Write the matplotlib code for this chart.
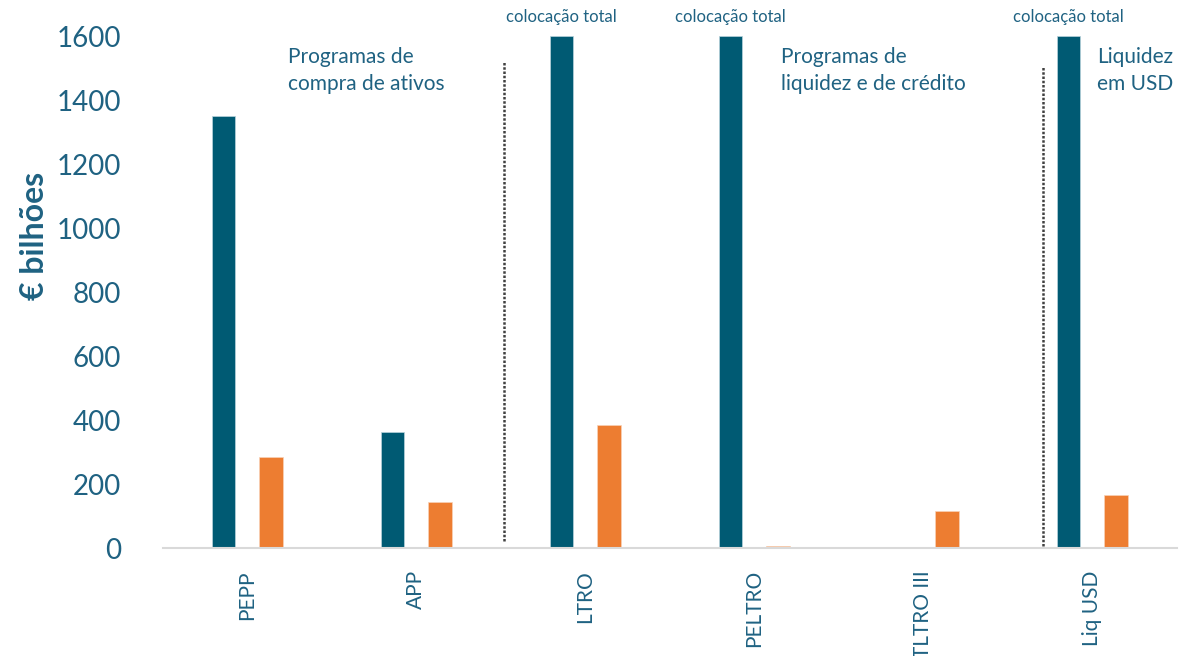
import numpy as np
import matplotlib.pyplot as plt

plt.rcParams['font.family'] = ['Lato', 'DejaVu Sans']

# data (dark bars capped at the 1600 axis top: "colocação total")
categories = ['PEPP', 'APP', 'LTRO', 'PELTRO', 'TLTRO III', 'Liq USD']
dark_vals = [1350, 362, 1600, 1600, 0, 1600]
orange_vals = [285, 144, 384, 5, 116, 166]
capped = [False, False, True, True, False, True]

DARK = '#005a73'
ORANGE = '#ed7d31'
TXT = '#1f6282'

fig = plt.figure(figsize=(11.79, 6.56), dpi=100)
ax = fig.add_axes([0.138, 0.1646, 0.860, 0.7805])

x = np.arange(len(categories))
w = 0.14
ax.bar(x - w, dark_vals, width=w, color=DARK, edgecolor='#b9d3dc', linewidth=0.5)
ax.bar(x + w, orange_vals, width=w, color=ORANGE, edgecolor='#f8d2b8', linewidth=0.5)

ax.set_xlim(-0.5, len(categories) - 0.5)
ax.set_ylim(0, 1600)
ax.set_yticks(np.arange(0, 1601, 200))
ax.set_xticks(x)
ax.set_xticklabels(categories, rotation=90, fontsize=15, color=TXT)
ax.tick_params(axis='y', length=0, pad=30, labelsize=20, labelcolor=TXT)
ax.tick_params(axis='x', length=0, pad=16)

for s in ['top', 'right', 'left']:
    ax.spines[s].set_visible(False)
ax.spines['bottom'].set_color('#d9d9d9')
ax.spines['bottom'].set_linewidth(1.5)

ax.set_ylabel('€ bilhões', fontsize=23, fontweight='bold', color=TXT)
ax.yaxis.set_label_coords(-0.112, 0.61)

# dotted separators between program groups
ax.plot([1.52, 1.52], [22, 1519], ls=(0, (1, 0.7)), color='#404040', lw=1.8)
ax.plot([4.71, 4.71], [6, 1503], ls=(0, (1, 0.7)), color='#404040', lw=1.8)

for xi, c in zip(x, capped):
    if c:
        ax.text(xi - w, 1660, 'colocação total', ha='center', va='center',
                fontsize=12, color=TXT, clip_on=False)

ax.text(0.24, 1565, 'Programas de\ncompra de ativos', ha='left', va='top',
        fontsize=15, color=TXT, linespacing=1.45)
ax.text(3.157, 1565, 'Programas de\nliquidez e de crédito', ha='left', va='top',
        fontsize=15, color=TXT, linespacing=1.45)
ax.text(5.03, 1565, 'Liquidez\nem USD', ha='left', va='top',
        fontsize=15, color=TXT, linespacing=1.45)

fig.savefig('out.png', dpi=100)
